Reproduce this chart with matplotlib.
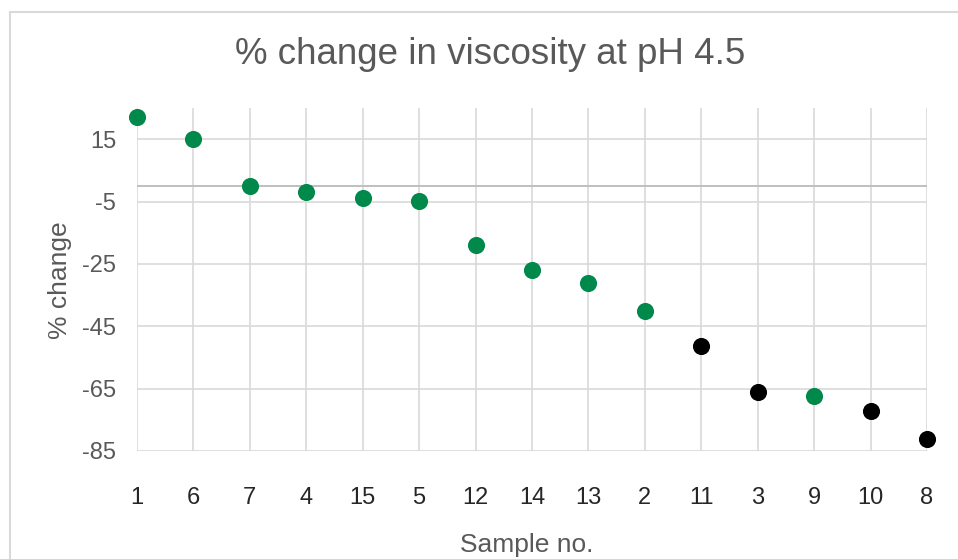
import matplotlib.pyplot as plt
from matplotlib.patches import Rectangle

samples = ['1', '6', '7', '4', '15', '5', '12', '14', '13', '2', '11', '3', '9', '10', '8']
pct_change = [22.0, 14.9, 0.0, -2.0, -3.8, -4.8, -18.9, -27.0, -31.1, -40.1, -51.3, -66.2, -67.4, -72.2, -81.2]
is_black = [False] * 10 + [True, True, False, True, True]
y_ticks = [15, -5, -25, -45, -65, -85]

green = '#00894B'
text_grey = '#595959'
grid_grey = '#D9D9D9'

plt.rcParams['font.family'] = ['Liberation Sans', 'DejaVu Sans']
plt.rcParams['axes.unicode_minus'] = False

fig = plt.figure(figsize=(9.58, 5.59), dpi=100)
ax = fig.add_axes([137 / 958, 1 - 451 / 559, (927 - 137) / 958, (451 - 108) / 559])

# chart frame like excel
fig.patches.append(Rectangle((10 / 958, -0.1), 1.0, 1.1 - 12 / 559, transform=fig.transFigure,
                             fill=False, edgecolor=grid_grey, linewidth=1.5))

xs = list(range(len(samples)))
for x, y, blk in zip(xs, pct_change, is_black):
    ax.plot(x, y, 'o', color='black' if blk else green, markersize=11.3, clip_on=False, zorder=5)

ax.set_xlim(0, len(samples) - 1)
ax.set_ylim(-85, 25)
ax.set_yticks(y_ticks)
ax.set_xticks(xs)
ax.set_xticklabels(samples)

for x in xs:
    ax.axvline(x, color=grid_grey, linewidth=1.2, zorder=1)
for y in y_ticks:
    ax.axhline(y, color=grid_grey, linewidth=1.2, zorder=1)
ax.axhline(0, color='#BFBFBF', linewidth=1.4, zorder=2)

for s in ax.spines.values():
    s.set_visible(False)
ax.tick_params(axis='both', length=0, labelsize=17, colors=text_grey)
ax.tick_params(axis='y', pad=15)
ax.tick_params(axis='x', pad=26, labelcolor='#262626')

fig.text(490 / 958, 1 - 55 / 559, '% change in viscosity at pH 4.5', fontsize=26.5,
         color=text_grey, ha='center', va='center')
fig.text(527 / 958, 1 - 545 / 559, 'Sample no.', fontsize=19, color=text_grey, ha='center', va='center')
fig.text(60 / 958, 1 - 280 / 559, '% change', fontsize=19, color=text_grey, ha='center', va='center',
         rotation=90)

fig.savefig('out.png', dpi=100)
